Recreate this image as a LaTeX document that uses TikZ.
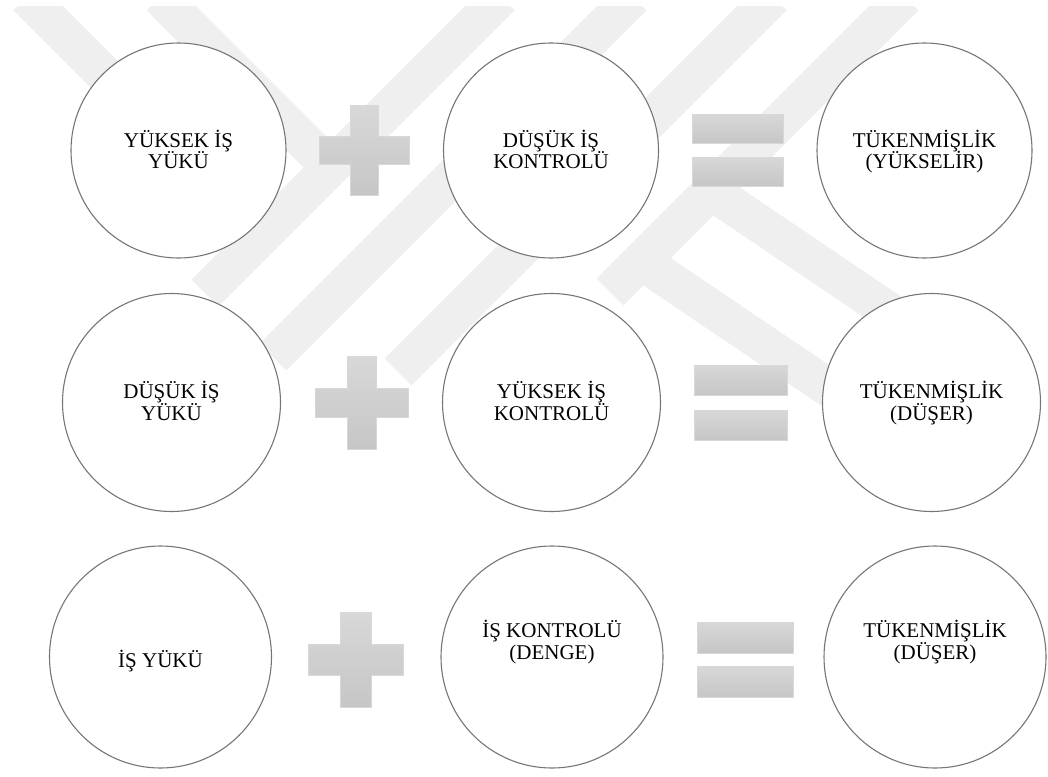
\documentclass[tikz,border=0pt]{standalone}
\usepackage{fontspec}
\setmainfont{Liberation Serif}
\definecolor{ringgray}{RGB}{118,118,118}
\definecolor{wmgray}{RGB}{239,239,239}
\definecolor{signtop}{RGB}{216,216,216}
\definecolor{signbot}{RGB}{198,198,198}
% plus sign: centre x, centre y, half arm length, half bar thickness
\newcommand{\drawplus}[4]{%
  \path[signfill] (#1-#4,#2-#3) -- (#1+#4,#2-#3) -- (#1+#4,#2-#4) -- (#1+#3,#2-#4)
    -- (#1+#3,#2+#4) -- (#1+#4,#2+#4) -- (#1+#4,#2+#3) -- (#1-#4,#2+#3)
    -- (#1-#4,#2+#4) -- (#1-#3,#2+#4) -- (#1-#3,#2-#4) -- (#1-#4,#2-#4) -- cycle;}
% equals sign: centre x, centre y, half width, bar height, gap between bars
\newcommand{\drawequals}[5]{%
  \path[signfill] (#1-#3,#2-#5/2-#4) rectangle (#1+#3,#2-#5/2);
  \path[signfill] (#1-#3,#2+#5/2) rectangle (#1+#3,#2+#5/2+#4);}
\begin{document}
\begin{tikzpicture}[x=1pt,y=-1pt,
  bubble/.style={circle, draw=ringgray, line width=1.1pt, fill=white, inner sep=0pt},
  lbl/.style={anchor=base, inner sep=0pt, font=\fontsize{21}{22}\selectfont},
  signfill/.style={top color=signtop, bottom color=signbot, draw=signtop, line width=0.6pt},
  band/.style={draw=wmgray, line width=38pt, line cap=butt}]
\useasboundingbox (0,0) rectangle (1048,776);
\fill[white] (0,0) rectangle (1048,776);

% faint emblem in the background
\begin{scope}
\clip (0,7) rectangle (1048,776);
\draw[band] (27,-3) -- (264,234);
\draw[band] (160,-3) -- (330,167);
\draw[band] (501,-3) -- (205,293);
\draw[band] (633,-3) -- (273,357);
\draw[band] (773,-3) -- (398,372);
\draw[band] (905,-3) -- (610,292);
\draw[band] (711,191) -- (936,343);
\draw[band] (641,261) -- (841,396);
\end{scope}

% row 1
\node[bubble, minimum size=215pt] (a1) at (178.5,150.5) {};
\node[bubble, minimum size=215pt] (a2) at (551,150.5) {};
\node[bubble, minimum size=215pt] (a3) at (924.5,150.5) {};
\drawplus{364.5}{150}{45}{14}
\drawequals{737.5}{150}{45.5}{29}{14}
\node[lbl] (a1t) at (178.5,147) {YÜKSEK İŞ};
\node[lbl] (a1b) at (178.5,168) {YÜKÜ};
\node[lbl] (a2t) at (551,147) {DÜŞÜK İŞ};
\node[lbl] (a2b) at (551,168) {KONTROLÜ};
\node[lbl] (a3t) at (924.5,147) {TÜKENMİŞLİK};
\node[lbl] (a3b) at (924.5,168) {(YÜKSELİR)};

% row 2
\node[bubble, minimum size=218pt] (b1) at (171.5,402.5) {};
\node[bubble, minimum size=218pt] (b2) at (551.5,402.5) {};
\node[bubble, minimum size=218pt] (b3) at (931.5,402.5) {};
\drawplus{362}{402.5}{46.5}{14.5}
\drawequals{740.5}{402.5}{46.5}{30}{15}
\node[lbl] (b1t) at (171.5,398) {DÜŞÜK İŞ};
\node[lbl] (b1b) at (171.5,420) {YÜKÜ};
\node[lbl] (b2t) at (551.5,398) {YÜKSEK İŞ};
\node[lbl] (b2b) at (551.5,420) {KONTROLÜ};
\node[lbl] (b3t) at (931.5,398) {TÜKENMİŞLİK};
\node[lbl] (b3b) at (931.5,420) {(DÜŞER)};

% row 3
\node[bubble, minimum size=222pt] (c1) at (160.5,657) {};
\node[bubble, minimum size=222pt] (c2) at (552,657) {};
\node[bubble, minimum size=222pt] (c3) at (935,657) {};
\drawplus{355.5}{659.5}{47.5}{15.5}
\drawequals{745}{659.5}{48}{31}{13}
\node[lbl] (c1t) at (160.5,667) {İŞ YÜKÜ};
\node[lbl] (c2t) at (552,637) {İŞ KONTROLÜ};
\node[lbl] (c2b) at (552,659) {(DENGE)};
\node[lbl] (c3t) at (935,637) {TÜKENMİŞLİK};
\node[lbl] (c3b) at (935,659) {(DÜŞER)};
\end{tikzpicture}
\end{document}
